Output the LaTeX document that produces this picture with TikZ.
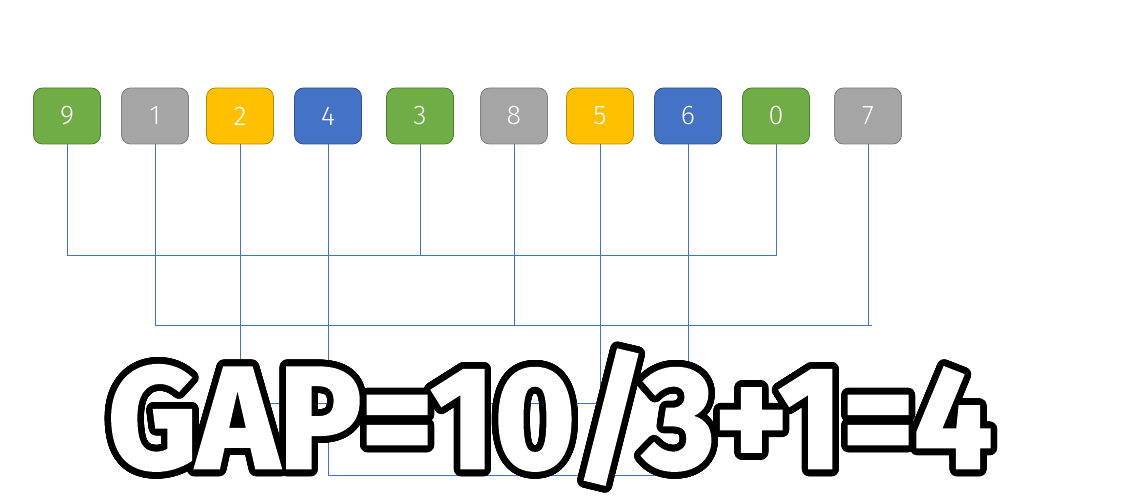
\documentclass[tikz,border=0pt]{standalone}
\usepackage{fontspec}
\setmainfont{Fira Sans}
\newfontfamily\thinfont{Fira Sans Light}
\newfontfamily\heavyfont{Fira Sans}[FakeBold=2]
\usepackage[copies]{contour}
\contourlength{7pt}
\contournumber{64}
\definecolor{lgreen}{HTML}{70AD47}\definecolor{dgreen}{HTML}{507E32}
\definecolor{lgray}{HTML}{A5A5A5}\definecolor{dgray}{HTML}{7F7F7F}
\definecolor{lyel}{HTML}{FFC000}\definecolor{dyel}{HTML}{BC8C00}
\definecolor{lblue}{HTML}{4472C4}\definecolor{dblue}{HTML}{2F528F}
\definecolor{link}{HTML}{4472C4}
\tikzset{
  cell/.style={rounded corners=9pt, minimum width=67pt, minimum height=56pt,
    text=white, font=\thinfont\fontsize{27}{30}\selectfont, line width=0.8pt, inner sep=0pt},
  cg/.style={cell, fill=lgreen, draw=dgreen},
  cy/.style={cell, fill=lgray, draw=dgray},
  cyl/.style={cell, fill=lyel, draw=dyel},
  cb/.style={cell, fill=lblue, draw=dblue},
  wire/.style={draw=link, line width=0.8pt},
}
\begin{document}
\begin{tikzpicture}[x=1pt,y=-1pt]
\useasboundingbox (0,0) rectangle (1123,502);
\node[cg]  (b9) at (67,116) {9};
\node[cy]  (b1) at (155,116) {1};
\node[cyl] (b2) at (240,116) {2};
\node[cb]  (b4) at (328,116) {4};
\node[cg]  (b3) at (420,116) {3};
\node[cy]  (b8) at (514,116) {8};
\node[cyl] (b5) at (600,116) {5};
\node[cb]  (b6) at (688,116) {6};
\node[cg]  (b0) at (776,116) {0};
\node[cy]  (b7) at (868,116) {7};
\coordinate (h1) at (0,255);
\coordinate (h2) at (0,325);
\coordinate (e2) at (872,325);
\coordinate (h3) at (0,403);
\coordinate (h4) at (0,475);
% group 1
\draw[wire] (b9.south) -- (b9.south |- h1) -- (b0.south |- h1) -- (b0.south);
\draw[wire] (b3.south) -- (b3.south |- h1);
% group 2
\draw[wire] (b1.south) -- (b1.south |- h2) -- (e2);
\draw[wire] (b8.south) -- (b8.south |- h2);
\draw[wire] (b7.south) -- (b7.south |- h2);
% group 3
\draw[wire] (b2.south) -- (b2.south |- h3) -- (b5.south |- h3) -- (b5.south);
% group 4
\draw[wire] (b4.south) -- (b4.south |- h4) -- (b6.south |- h4) -- (b6.south);
% big text
\node[anchor=base, inner sep=0pt] (gap) at (550,468)
  {\resizebox{884pt}{118pt}{\heavyfont\bfseries\fontsize{150}{150}\selectfont\textcolor{white}{\contour{black}{GAP=10/3+1=4}}}};
\end{tikzpicture}
\end{document}
